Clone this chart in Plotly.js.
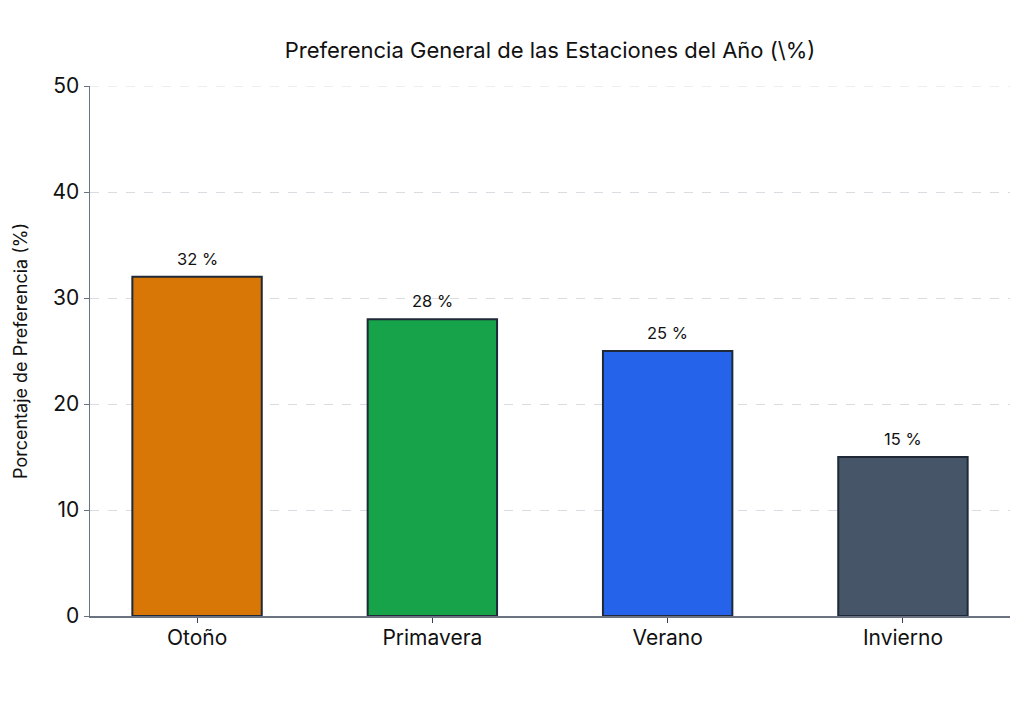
<!DOCTYPE html>
<html>
<head>
<meta charset="utf-8">
<script src="https://cdn.plot.ly/plotly-3.0.1.min.js"></script>
<style>
  html, body { margin: 0; padding: 0; background: #fff; }
  #chart { width: 1024px; height: 720px; }
</style>
</head>
<body>
<div id="chart"></div>
<script>
// season preference data
const seasons = ['Otoño', 'Primavera', 'Verano', 'Invierno'];
const preference = [32, 28, 25, 15];
const barColors = ['#d97706', '#16a34a', '#2563eb', '#475569'];
const yTicks = [0, 10, 20, 30, 40, 50];

const fontFamily = 'Inter, "Open Sans", Roboto, sans-serif';
const yMax = yTicks[yTicks.length - 1];

const trace = {
    type: 'bar',
    x: seasons,
    y: preference,
    width: 0.55,
    marker: {
        color: barColors,
        line: { color: '#1f2937', width: 2 }
    },
    hoverinfo: 'skip'
};

// value labels above each bar
const labels = seasons.map((s, i) => ({
    x: s,
    y: preference[i],
    xref: 'x',
    yref: 'y',
    text: preference[i] + ' %',
    showarrow: false,
    yanchor: 'bottom',
    yshift: 6,
    font: { family: fontFamily, size: 16.5, color: '#111' }
}));

const layout = {
    width: 1024,
    height: 720,
    margin: { l: 90, r: 14, t: 86, b: 104 },
    paper_bgcolor: '#fff',
    plot_bgcolor: '#fff',
    showlegend: false,
    font: { family: fontFamily, color: '#111' },
    annotations: labels,
    // plotly drops the gridline sitting on the top edge, so draw it here
    shapes: [{
        type: 'line', xref: 'paper', yref: 'y',
        x0: 0, x1: 1, y0: yMax, y1: yMax,
        line: { color: '#d9dde3', width: 1, dash: 'dash' },
        layer: 'below'
    }],
    title: {
        text: 'Preferencia General de las Estaciones del Año (\\%)',
        font: { size: 22, color: '#111' },
        x: 0.5, xref: 'paper', xanchor: 'center',
        y: 1 - 50 / 720, yanchor: 'middle'
    },
    xaxis: {
        range: [-0.455, 3.455],
        showline: true,
        linecolor: '#6b7280',
        linewidth: 1.5,
        ticks: 'outside',
        ticklen: 5,
        tickcolor: '#374151',
        tickfont: { size: 21 },
        ticklabelstandoff: -3,
        showgrid: false,
        zeroline: false
    },
    yaxis: {
        range: [0, yMax],
        tickvals: yTicks,
        showline: true,
        linecolor: '#6b7280',
        linewidth: 1.5,
        ticks: 'outside',
        ticklen: 5,
        tickcolor: '#6b7280',
        tickfont: { size: 21 },
        showgrid: true,
        gridcolor: '#d9dde3',
        griddash: 'dash',
        gridwidth: 1,
        zeroline: false,
        title: { text: 'Porcentaje de Preferencia (%)', font: { size: 18 }, standoff: 20 }
    }
};

Plotly.newPlot('chart', [trace], layout, { staticPlot: true, displayModeBar: false });
</script>
</body>
</html>
